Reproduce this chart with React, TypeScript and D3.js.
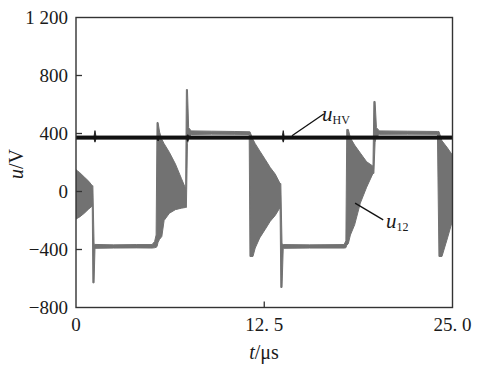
import React from "react";
import * as d3 from "d3";

// ---- data ----
const xTicks = [0, 12.5, 25];
const xTickLabels = ["0", "12. 5", "25. 0"];
const yTicks = [-800, -400, 0, 400, 800, 1200];
const yTickLabels = ["\u2212800", "\u2212400", "0", "400", "800", "1 200"];

// u12 envelope: time (us), upper, lower (V)
const u12T = [0, 0.25, 0.55, 0.85, 1.08, 1.12, 1.2, 1.26, 2.5, 4.0, 5.05, 5.22, 5.32, 5.38, 5.45, 5.55, 5.7, 5.85, 6.2, 6.6, 7.0, 7.28, 7.33, 7.4, 7.48, 7.65, 9.0, 10.5, 11.5, 11.55, 11.75, 11.9, 12.2, 12.57, 12.9, 13.23, 13.55, 13.6, 13.68, 13.76, 15.5, 17.8, 17.92, 17.98, 18.08, 18.22, 18.5, 18.88, 19.3, 19.72, 19.78, 19.86, 19.95, 20.15, 22.0, 24.0, 24.1, 24.3, 24.67, 25.0];
const u12Hi = [150, 130, 100, 70, 40, 40, -360, -365, -368, -366, -366, -345, -300, 476, 476, 410, 360, 330, 270, 190, 90, 20, 703, 703, 440, 418, 416, 414, 412, 412, 360, 330, 280, 220, 165, 120, 55, 55, -360, -366, -368, -366, -340, 428, 428, 370, 320, 265, 205, 175, 621, 621, 440, 418, 416, 414, 414, 350, 300, 250];
const u12Lo = [-190, -175, -150, -120, -100, -630, -630, -392, -390, -389, -390, -388, -385, -380, -350, -330, -310, -200, -150, -125, -115, -110, -110, 330, 375, 393, 395, 394, 393, -448, -448, -390, -320, -260, -205, -165, -110, -662, -662, -392, -390, -390, -388, -370, -360, -300, -230, -80, 30, 125, 125, 340, 380, 394, 395, 394, -448, -448, -320, -200];

// uHV envelope
const hvT = [0, 1.2, 1.26, 1.32, 5.4, 5.45, 5.5, 7.36, 7.42, 7.48, 13.7, 13.76, 13.82, 25];
const hvHi = [383, 383, 420, 383, 383, 383, 383, 383, 392, 383, 383, 420, 383, 383];
const hvLo = [361, 361, 340, 361, 361, 348, 361, 361, 345, 361, 361, 340, 361, 361];

const W = 480, H = 370;
const M = { left: 76, right: 452.5, top: 17.5, bottom: 307.5 };
const FONT = "'Liberation Serif', serif";
const TXT = "#1a1a1a";
const tStyle = { fontFamily: FONT };

export default function App() {
  const x = d3.scaleLinear().domain([0, 25]).range([M.left, M.right]);
  const y = d3.scaleLinear().domain([-800, 1200]).range([M.bottom, M.top]);

  const u12Idx = d3.range(u12T.length);
  const u12Area = d3
    .area<number>()
    .x((i) => x(u12T[i]))
    .y0((i) => y(u12Lo[i]))
    .y1((i) => y(u12Hi[i]))(u12Idx) as string;

  const hvIdx = d3.range(hvT.length);
  const hvArea = d3
    .area<number>()
    .x((i) => x(hvT[i]))
    .y0((i) => y(hvLo[i]))
    .y1((i) => y(hvHi[i]))(hvIdx) as string;

  const hvLead = { x1: x(14.34), y1: y(385), x2: x(16.45), y2: y(535) };
  const u12Lead = { x1: x(18.53), y1: y(-80), x2: x(20.4), y2: y(-196) };

  return (
    <svg
      width={W}
      height={H}
      style={{ position: "fixed", left: 0, top: 0, background: "#fff" }}
    >
      <rect x={0} y={0} width={W} height={H} fill="#fff" />
      <defs>
        <clipPath id="plot">
          <rect x={M.left} y={M.top} width={M.right - M.left} height={M.bottom - M.top} />
        </clipPath>
      </defs>

      <g clipPath="url(#plot)">
        <path d={u12Area} fill="#727272" stroke="#727272" strokeWidth={1} strokeLinejoin="round" />
        <path d={hvArea} fill="#111" stroke="#111" strokeWidth={0.8} />
      </g>

      {/* frame */}
      <rect
        x={M.left}
        y={M.top}
        width={M.right - M.left}
        height={M.bottom - M.top}
        fill="none"
        stroke="#333"
        strokeWidth={1.4}
      />

      {/* y ticks */}
      {yTicks.map((v, i) => (
        <g key={"y" + v}>
          {v > -800 && v < 1200 && (
            <line x1={M.left} x2={M.left + 6} y1={y(v)} y2={y(v)} stroke="#333" strokeWidth={1.3} />
          )}
          <text style={tStyle} x={M.left - 8} y={y(v)} dy="0.34em" textAnchor="end" fontSize={19} fill={TXT}>
            {yTickLabels[i]}
          </text>
        </g>
      ))}

      {/* x ticks */}
      {xTicks.map((v, i) => (
        <g key={"x" + v}>
          {v > 0 && v < 25 && (
            <line x1={x(v)} x2={x(v)} y1={M.bottom} y2={M.bottom - 6} stroke="#333" strokeWidth={1.3} />
          )}
          <text style={tStyle} x={x(v)} y={M.bottom + 23} textAnchor="middle" fontSize={19} fill={TXT}>
            {xTickLabels[i]}
          </text>
        </g>
      ))}

      {/* axis titles */}
      <text style={tStyle} x={264} y={359} textAnchor="middle" fontSize={20} fill={TXT}>
        <tspan fontStyle="italic">t</tspan>
        <tspan>/μs</tspan>
      </text>
      <text
        style={tStyle}
        transform={`translate(23, 164) rotate(-90)`}
        textAnchor="middle"
        fontSize={20}
        fill={TXT}
      >
        <tspan fontStyle="italic">u</tspan>
        <tspan>/V</tspan>
      </text>

      {/* annotations */}
      <line {...hvLead} stroke="#111" strokeWidth={1.3} />
      <text style={tStyle} x={322} y={121} fontSize={21} fill={TXT}>
        <tspan fontStyle="italic">u</tspan>
        <tspan fontSize={12} dy={3}>HV</tspan>
      </text>
      <line {...u12Lead} stroke="#111" strokeWidth={1.3} />
      <text style={tStyle} x={386} y={228} fontSize={21} fill={TXT}>
        <tspan fontStyle="italic">u</tspan>
        <tspan fontSize={12} dy={3}>12</tspan>
      </text>
    </svg>
  );
}
